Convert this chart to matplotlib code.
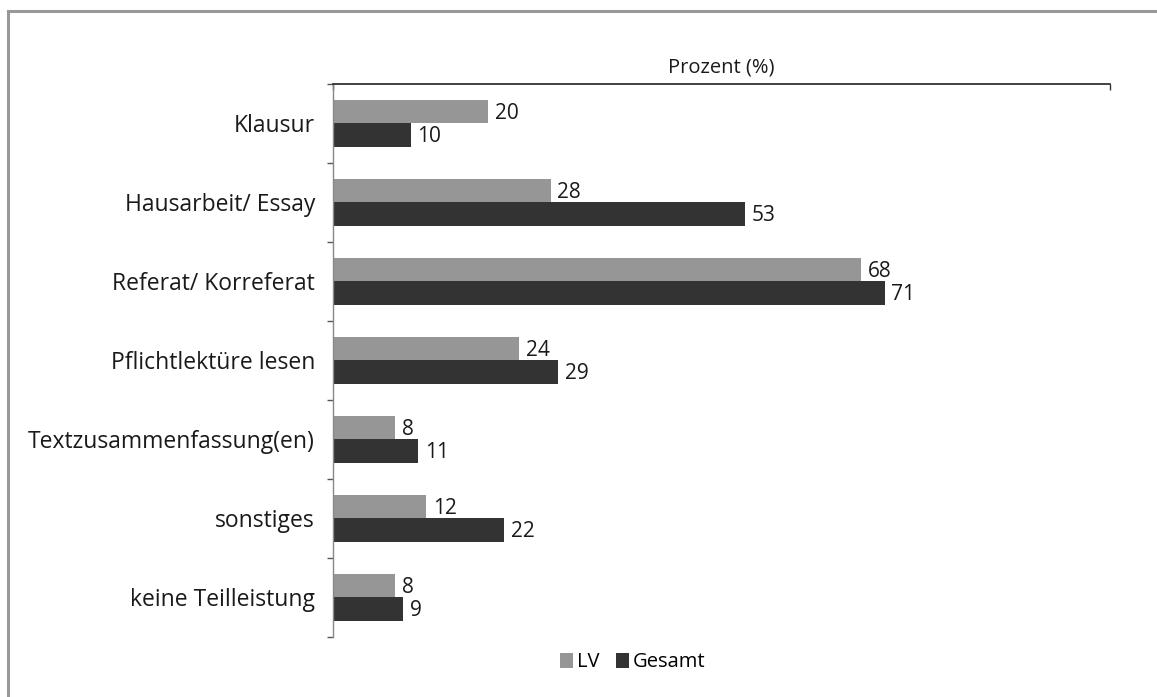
import matplotlib.pyplot as plt
import numpy as np
from matplotlib.lines import Line2D

plt.rcParams['font.family'] = ['Open Sans', 'DejaVu Sans']

categories = ['Klausur', 'Hausarbeit/ Essay', 'Referat/ Korreferat', 'Pflichtlektüre lesen',
              'Textzusammenfassung(en)', 'sonstiges', 'keine Teilleistung']
lv = [20, 28, 68, 24, 8, 12, 8]
gesamt = [10, 53, 71, 29, 11, 22, 9]

c_lv = '#969696'
c_ges = '#333333'
txt = '#1a1a1a'

fig = plt.figure(figsize=(11.57, 6.97), dpi=100)
ax = fig.add_axes([0.2878, 0.0861, 0.9594 - 0.2878, 0.8795 - 0.0861])

y = np.arange(len(categories))
h = 0.3
b1 = ax.barh(y - h / 2, lv, height=h, color=c_lv, label='LV')
b2 = ax.barh(y + h / 2, gesamt, height=h, color=c_ges, label='Gesamt')

for bars, vals in ((b1, lv), (b2, gesamt)):
    for rect, v in zip(bars, vals):
        ax.text(rect.get_width() + 0.85, rect.get_y() + rect.get_height() / 2 + 0.02, str(v),
                va='center', ha='left', fontsize=15, color=txt)

ax.set_xlim(0, 100)
ax.set_ylim(len(categories) - 0.5, -0.5)

# top axis only
ax.xaxis.set_ticks_position('top')
ax.xaxis.set_label_position('top')
ax.set_xticks([0, 100])
ax.set_xticklabels([])
ax.tick_params(axis='x', direction='in', length=4, width=1, color='#333333')
ax.set_xlabel('Prozent (%)', fontsize=14.5, labelpad=5, color=txt)

ax.set_yticks(y)
ax.set_yticklabels(categories, fontsize=16.5, color=txt)
ax.tick_params(axis='y', which='major', length=0, pad=13)
ax.set_yticks(np.arange(-0.5, len(categories)), minor=True)
ax.tick_params(axis='y', which='minor', length=4, width=1, color='#555555', direction='out')

ax.spines['right'].set_visible(False)
ax.spines['bottom'].set_visible(False)
ax.spines['top'].set_color('#222222')
ax.spines['top'].set_linewidth(1.2)
ax.spines['left'].set_color('#888888')
ax.spines['left'].set_linewidth(1)

fig.legend(handles=[b1, b2], labels=['LV', 'Gesamt'], loc='center', bbox_to_anchor=(0.547, 0.05),
           ncol=2, frameon=False, fontsize=14.5, handlelength=0.65, handleheight=0.75,
           handletextpad=0.2, columnspacing=0.8)

# grey frame (top and left edges)
fig.add_artist(Line2D([7.5 / 1157, 7.5 / 1157], [0, 1 - 10.5 / 697], transform=fig.transFigure,
                      color='#999999', linewidth=2.2, solid_capstyle='projecting'))
fig.add_artist(Line2D([7.5 / 1157, 1], [1 - 10.5 / 697, 1 - 10.5 / 697], transform=fig.transFigure,
                      color='#999999', linewidth=2.2, solid_capstyle='projecting'))

fig.savefig('out.png', dpi=100)
